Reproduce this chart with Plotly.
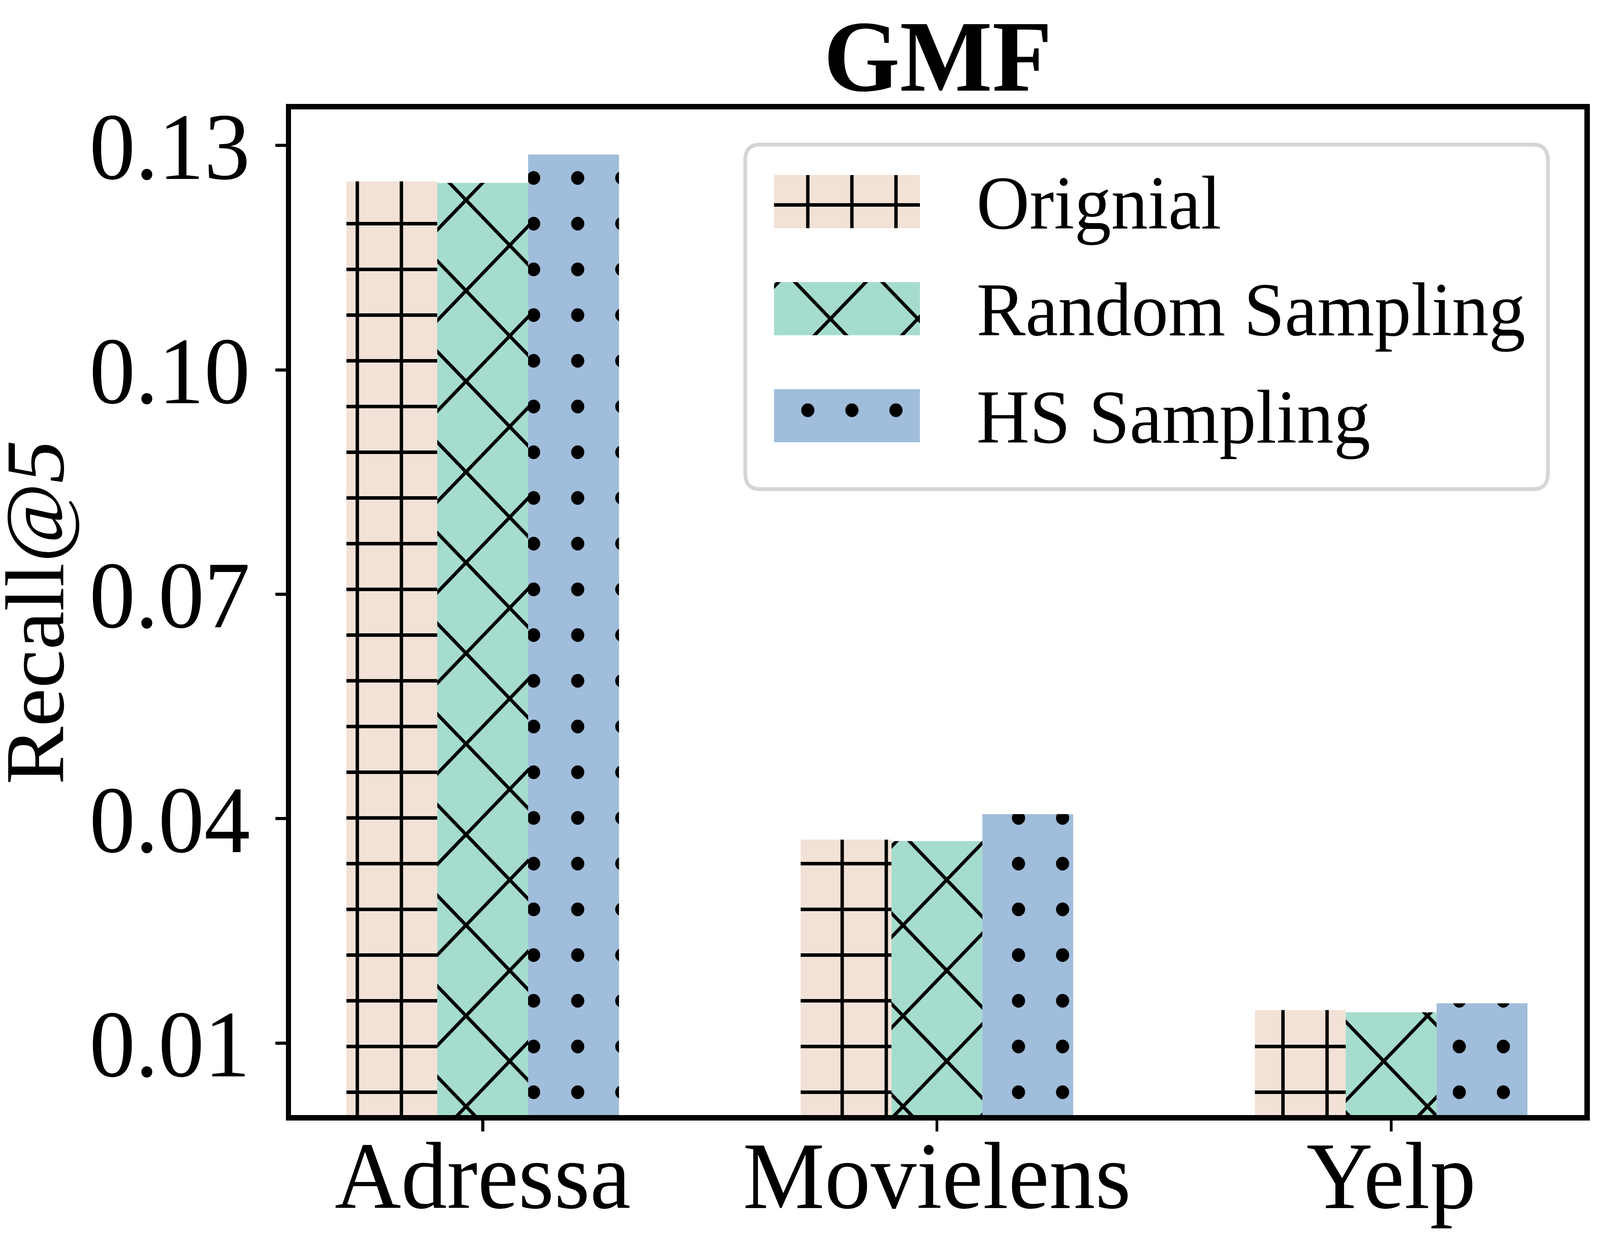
import math
import plotly.graph_objects as go

# ---------------- data ----------------
datasets = ["Adressa", "Movielens", "Yelp"]
methods = ["Orignial", "Random Sampling", "HS Sampling"]
original = [0.1252, 0.0372, 0.0144]
random_sampling = [0.1250, 0.0370, 0.0141]
hs_sampling = [0.1288, 0.0406, 0.0153]
y_tickvals = [0.01, 0.04, 0.07, 0.10, 0.13]
y_ticktext = ["0.01", "0.04", "0.07", "0.10", "0.13"]
y_label = "Recall<i>@5</i>"
title_text = "<b>GMF</b>"

# ---------------- style ----------------
colors = ["#F2E1D6", "#A5DCCE", "#A0BDDB"]
patterns = ["+", "x", "."]
pattern_sizes = [117, 232 / math.sqrt(2), 117]
pattern_solidity = [0.148, 0.1068, 0.07]
FONT = "Liberation Serif"
BAR_W = 0.2
OFFSETS = [-0.3, -0.1, 0.1]

W, H = 4277, 3184
PL, PR, PT, PB = 778, 4236, 280, 2854  # plot area in pixels


def fx(px):
    return (px - PL) / (PR - PL)


def fy(py):
    return (PB - py) / (PB - PT)


def pattern_marker(k):
    return dict(color="black", line=dict(width=0),
                pattern=dict(shape=patterns[k], size=pattern_sizes[k],
                             solidity=pattern_solidity[k], fillmode="replace"))


fig = go.Figure()
series = [original, random_sampling, hs_sampling]
for i, vals in enumerate(series):
    # colour body
    fig.add_trace(go.Bar(
        x=datasets, y=vals, name=methods[i], showlegend=False,
        width=BAR_W, offset=OFFSETS[i],
        marker=dict(color=colors[i], line=dict(width=0)),
        xaxis="x", yaxis="y"))
    # black hatch on top
    fig.add_trace(go.Bar(
        x=datasets, y=vals, name=methods[i], showlegend=False,
        width=BAR_W, offset=OFFSETS[i], marker=pattern_marker(i),
        hoverinfo="skip", xaxis="x", yaxis="y"))

# ---------------- custom legend (patterned swatches) ----------------
SW_X0, SW_X1 = 2069, 2459
SW_TOPS = [448, 722, 996]
SW_H = 136
ORIGINS = [(1982.5, 349), (1986, 584), (1982.5, 874.5)]
layout_axes = {}
annotations = []
for k in range(3):
    ox, oy = ORIGINS[k]
    top = SW_TOPS[k]
    xa, ya = f"xaxis{k + 2}", f"yaxis{k + 2}"
    layout_axes[xa] = dict(domain=[fx(ox), fx(SW_X1)],
                           range=[-(SW_X0 - ox) / (SW_X1 - SW_X0), 1],
                           visible=False, fixedrange=True, anchor=f"y{k + 2}")
    layout_axes[ya] = dict(domain=[fy(top + SW_H), fy(oy)],
                           range=[-0.5, 0.5 + (top - oy) / SW_H], type="category",
                           visible=False, fixedrange=True, anchor=f"x{k + 2}")
    for mk in (dict(color=colors[k], line=dict(width=0)), pattern_marker(k)):
        fig.add_trace(go.Bar(
            x=[1], y=[methods[k]], base=0, width=1, orientation="h", showlegend=False,
            marker=mk, xaxis=f"x{k + 2}", yaxis=f"y{k + 2}", hoverinfo="skip"))
    annotations.append(dict(
        text=methods[k], xref="paper", yref="paper", x=fx(2608), y=fy(top + SW_H / 2 + 3),
        xanchor="left", yanchor="middle", showarrow=False,
        font=dict(family=FONT, size=195, color="black")))

# legend frame (rounded rectangle)
LX0, LX1, LY0, LY1, R = 1992, 4138, 370, 1252, 40
x0, x1 = fx(LX0), fx(LX1)
y0, y1 = fy(LY1), fy(LY0)
rx, ry = R / (PR - PL), R / (PB - PT)
frame_path = (f"M{x0 + rx},{y1} L{x1 - rx},{y1} Q{x1},{y1} {x1},{y1 - ry} "
              f"L{x1},{y0 + ry} Q{x1},{y0} {x1 - rx},{y0} L{x0 + rx},{y0} "
              f"Q{x0},{y0} {x0},{y0 + ry} L{x0},{y1 - ry} Q{x0},{y1} {x0 + rx},{y1} Z")

fig.update_layout(
    width=W, height=H,
    margin=dict(l=PL, r=W - PR, t=PT, b=H - PB, pad=0),
    paper_bgcolor="white", plot_bgcolor="rgba(0,0,0,0)",
    barmode="overlay",
    title=dict(text=title_text, x=0.5, xref="paper", xanchor="center",
               y=1 - 232 / H, yref="container", yanchor="bottom",
               font=dict(family=FONT, size=260, color="black")),
    xaxis=dict(type="category", range=[-0.4216, 2.4257], showgrid=False, zeroline=False,
               showline=True, linewidth=14, linecolor="black", mirror=True,
               ticks="outside", ticklen=28, tickwidth=8, tickcolor="black",
               ticklabelstandoff=-97,
               tickfont=dict(family=FONT, size=244, color="black"), anchor="y"),
    yaxis=dict(range=[0.000366, 0.13483], showgrid=False, zeroline=False,
               showline=True, linewidth=14, linecolor="black", mirror=True,
               ticks="outside", ticklen=28, tickwidth=8, tickcolor="black",
               ticklabelstandoff=18,
               tickvals=y_tickvals, ticktext=y_ticktext,
               tickfont=dict(family=FONT, size=244, color="black"),
               title=dict(text=y_label, standoff=100,
                          font=dict(family=FONT, size=222, color="black")),
               anchor="x"),
    shapes=[dict(type="path", path=frame_path, xref="paper", yref="paper",
                 line=dict(color="#D6D6D6", width=10), fillcolor="rgba(255,255,255,0.8)",
                 layer="below")],
    annotations=annotations,
    **layout_axes,
)

# remove page margins and fit the fixed-size figure into the visible viewport
post_script = """
var gd = document.getElementById('{plot_id}');
document.documentElement.style.margin = '0';
document.body.style.margin = '0';
document.documentElement.style.overflow = 'hidden';
document.body.style.overflow = 'hidden';
gd.style.position = 'fixed';
gd.style.left = '0px';
gd.style.top = '0px';
var vw = window.innerWidth, vh = window.innerHeight;
var FW = %d, FH = %d;
var off = 0, sx = 1, sy = Math.min(1, vh / FH);
if (vw < FW) { off = 29; sx = (vw + off) / FW; }
gd.style.transformOrigin = '0 0';
gd.style.transform = 'translate(' + (-off) + 'px,0px) scale(' + sx + ',' + sy + ')';
""" % (W, H)

fig.write_html("out.html", post_script=post_script,
               config={"displayModeBar": False, "responsive": False})
